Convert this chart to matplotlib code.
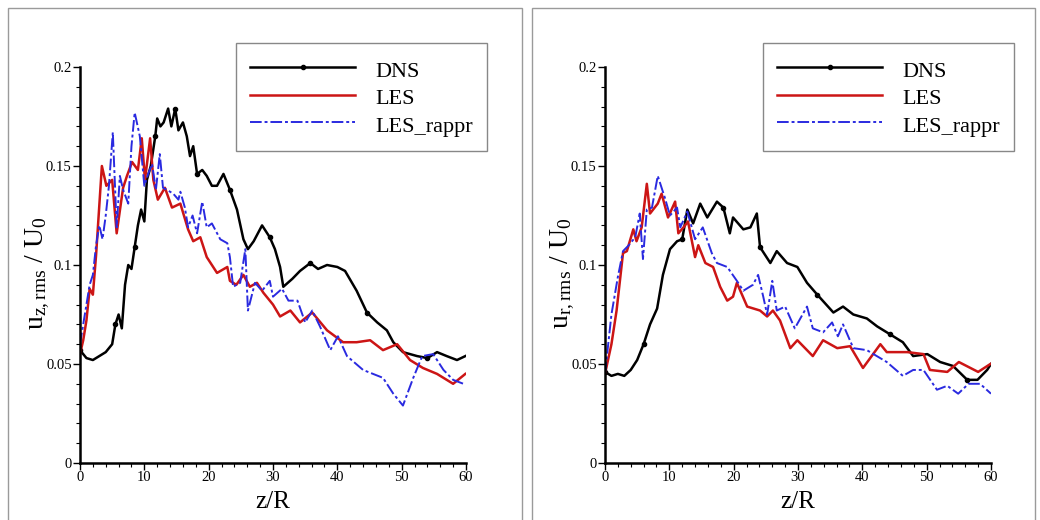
import matplotlib
matplotlib.use("Agg")
import matplotlib.pyplot as plt
from matplotlib.patches import Rectangle

plt.rcParams['font.family'] = ['Liberation Serif', 'DejaVu Serif']
plt.rcParams['mathtext.fontset'] = 'custom'
plt.rcParams['mathtext.rm'] = 'Liberation Serif'
plt.rcParams['mathtext.it'] = 'Liberation Serif'

# ---------------- data: left panel (u_z,rms) ----------------
zL_dns = [0, 1, 2, 3, 4, 5, 5.5, 6, 6.5, 7, 7.5, 8, 8.5, 9, 9.5, 10, 10.4, 11, 11.7, 12,
          12.5, 13, 13.7, 14.2, 14.8, 15.3, 16, 16.6, 17.1, 17.6, 18.2, 19, 19.7, 20.5, 21.3,
          22.3, 23.3, 24.4, 25.4, 26.1, 27, 28.3, 29.5, 30.3, 31.1, 31.6, 33, 34.2, 35.8, 37,
          38.4, 40, 41.2, 43, 44.6, 46.2, 47.7, 48.7, 50.2, 52.4, 54, 55.5, 57, 58.6, 59.9]
uL_dns = [0.057, 0.053, 0.052, 0.054, 0.056, 0.060, 0.070, 0.075, 0.068, 0.090, 0.100, 0.098,
          0.109, 0.120, 0.128, 0.122, 0.143, 0.150, 0.165, 0.174, 0.170, 0.172, 0.179, 0.170,
          0.179, 0.168, 0.172, 0.165, 0.155, 0.160, 0.146, 0.148, 0.145, 0.140, 0.140, 0.146,
          0.138, 0.128, 0.113, 0.108, 0.112, 0.120, 0.114, 0.108, 0.099, 0.089, 0.093, 0.097,
          0.101, 0.098, 0.100, 0.099, 0.097, 0.087, 0.076, 0.071, 0.067, 0.061, 0.056, 0.054,
          0.053, 0.056, 0.054, 0.052, 0.054]

zL_les = [0, 0.5, 1, 1.5, 2, 2.5, 3, 3.4, 4.1, 5, 5.7, 6.7, 7.3, 8.1, 9, 9.6, 10.1, 10.9, 11.4,
          12.1, 13.2, 14.3, 15.6, 16.8, 17.6, 18.7, 19.7, 21.3, 22.9, 23.3, 24.3, 25.4, 26.4,
          27.5, 28.5, 30, 31.1, 32.7, 34.2, 36.1, 38.4, 40.9, 43, 45.1, 47.1, 49.3, 51.3, 53.3,
          55.5, 58, 59.9]
uL_les = [0.055, 0.062, 0.072, 0.088, 0.085, 0.105, 0.130, 0.150, 0.140, 0.143, 0.116, 0.139,
          0.145, 0.152, 0.148, 0.164, 0.143, 0.164, 0.143, 0.133, 0.139, 0.129, 0.131, 0.118,
          0.112, 0.114, 0.104, 0.096, 0.099, 0.092, 0.090, 0.095, 0.089, 0.091, 0.086, 0.080,
          0.074, 0.077, 0.071, 0.076, 0.067, 0.061, 0.061, 0.062, 0.057, 0.060, 0.052, 0.048,
          0.045, 0.040, 0.045]

zL_rap = [0, 0.5, 1, 1.5, 2, 2.5, 3, 3.5, 4, 4.5, 5.1, 5.7, 6.2, 6.7, 7.5, 8, 8.5, 9.3, 10,
          10.6, 11.2, 11.8, 12.4, 12.9, 13.5, 14.5, 15.3, 15.6, 16.3, 16.8, 17.5, 18.2, 19,
          19.7, 20.5, 21.8, 22.9, 23.3, 23.8, 24.9, 25.7, 26.1, 27.2, 28.3, 29.5, 30, 31.4,
          32.4, 33.8, 35, 36.1, 37.3, 38.9, 40.1, 41.5, 44, 47.1, 48.7, 50.2, 51.8, 53.2, 54.9,
          56.5, 58, 59.6]
uL_rap = [0.060, 0.070, 0.080, 0.090, 0.095, 0.110, 0.120, 0.113, 0.125, 0.140, 0.167, 0.119,
          0.145, 0.138, 0.131, 0.160, 0.177, 0.165, 0.140, 0.146, 0.151, 0.138, 0.156, 0.139,
          0.138, 0.136, 0.133, 0.137, 0.129, 0.119, 0.125, 0.116, 0.132, 0.119, 0.121, 0.113,
          0.111, 0.104, 0.089, 0.091, 0.108, 0.077, 0.091, 0.087, 0.092, 0.084, 0.088, 0.082,
          0.082, 0.071, 0.077, 0.069, 0.057, 0.064, 0.054, 0.047, 0.043, 0.035, 0.029, 0.043,
          0.054, 0.055, 0.047, 0.042, 0.040]

# ---------------- data: right panel (u_r,rms) ----------------
zR_dns = [0, 1, 2, 3, 4, 5, 6, 7, 8.1, 9, 10.1, 11.2, 12, 12.8, 13.7, 14.8, 15.9, 17.4, 18.4,
          19.4, 19.9, 21.5, 22.6, 23.6, 24.1, 25.7, 26.7, 28.3, 29.9, 31.4, 33, 35.5, 37, 38.6,
          40.7, 42.3, 44.3, 46.3, 47.9, 50.1, 52.1, 54.1, 56.3, 57.9, 59.4, 60]
uR_dns = [0.046, 0.044, 0.045, 0.044, 0.047, 0.052, 0.060, 0.070, 0.078, 0.095, 0.108, 0.112,
          0.113, 0.128, 0.121, 0.131, 0.124, 0.132, 0.129, 0.116, 0.124, 0.118, 0.119, 0.126,
          0.109, 0.101, 0.107, 0.101, 0.099, 0.091, 0.085, 0.076, 0.079, 0.075, 0.073, 0.069,
          0.065, 0.061, 0.054, 0.055, 0.051, 0.049, 0.042, 0.042, 0.047, 0.050]

zR_les = [0, 1, 1.8, 2.8, 3.4, 4.4, 4.9, 5.7, 6.5, 7, 8.2, 8.8, 9.8, 10.9, 11.4, 12.2, 12.9, 14,
          14.5, 15.6, 16.8, 17.9, 19, 19.9, 20.5, 22.1, 24.1, 25.2, 26.1, 27.2, 28.8, 29.9, 32.3,
          33.9, 36.1, 38.1, 40.1, 42.8, 43.8, 47, 49.5, 50.5, 53.2, 55, 58, 59.9]
uR_les = [0.045, 0.060, 0.077, 0.106, 0.107, 0.118, 0.112, 0.119, 0.141, 0.126, 0.131, 0.136,
          0.124, 0.132, 0.116, 0.119, 0.122, 0.104, 0.110, 0.101, 0.099, 0.089, 0.082, 0.084,
          0.091, 0.079, 0.077, 0.074, 0.077, 0.072, 0.058, 0.062, 0.054, 0.062, 0.058, 0.059,
          0.048, 0.060, 0.056, 0.056, 0.055, 0.047, 0.046, 0.051, 0.046, 0.050]

zR_rap = [0, 1, 2, 2.8, 3.7, 4.7, 5.4, 5.9, 6.5, 7.3, 8.2, 9.3, 10.1, 11.2, 11.7, 12.8, 14, 15.2,
          16.6, 17.4, 19, 20.5, 21.5, 23, 23.8, 24.6, 25.2, 26, 26.7, 28, 29.5, 31.4, 32.3, 33.9,
          35.3, 36.2, 37, 38.6, 40.7, 43.8, 46.3, 47.9, 49.5, 51.6, 53.2, 54.9, 56.5, 58.3, 60]
uR_rap = [0.045, 0.075, 0.094, 0.107, 0.110, 0.114, 0.126, 0.103, 0.128, 0.129, 0.145, 0.134,
          0.125, 0.129, 0.119, 0.127, 0.113, 0.119, 0.106, 0.101, 0.099, 0.092, 0.087, 0.090,
          0.095, 0.084, 0.075, 0.092, 0.077, 0.079, 0.068, 0.079, 0.068, 0.066, 0.071, 0.064,
          0.070, 0.058, 0.057, 0.051, 0.044, 0.047, 0.047, 0.037, 0.039, 0.035, 0.040, 0.040,
          0.035]

labels = ["DNS", "LES", "LES_rappr"]
xticks = [0, 10, 20, 30, 40, 50, 60]
yticks = [0, 0.05, 0.1, 0.15, 0.2]
ytick_labels = ["0", "0.05", "0.1", "0.15", "0.2"]
ylabels = [r"$\mathrm{u_{z,rms}\ /\ U_0}$", r"$\mathrm{u_{r,rms}\ /\ U_0}$"]

W, H = 1040, 520
fig = plt.figure(figsize=(W / 100, H / 100), dpi=100)

# panel frames
for x0, x1 in [(8, 522), (532, 1035)]:
    fig.add_artist(Rectangle((x0 / W, -0.01), (x1 - x0) / W, 1 - 8 / H + 0.01,
                             transform=fig.transFigure, fill=False,
                             edgecolor="#9a9a9a", linewidth=1.0))

panels = [
    (80, (zL_dns, uL_dns), (zL_les, uL_les), (zL_rap, uL_rap), ylabels[0], 487),
    (605, (zR_dns, uR_dns), (zR_les, uR_les), (zR_rap, uR_rap), ylabels[1], 1014),
]

for left_px, dns, les, rap, ylab, leg_right in panels:
    ax = fig.add_axes([left_px / W, (H - 463) / H, 386 / W, 396 / H])
    ax.plot(dns[0], dns[1], color="black", lw=1.8, marker="o", ms=3,
            markevery=6, label=labels[0])
    ax.plot(les[0], les[1], color="#cc1515", lw=1.8, label=labels[1])
    ax.plot(rap[0], rap[1], color="#2a2ae0", lw=1.4, ls=(0, (6, 1.5, 1.5, 1.5)),
            label=labels[2])
    ax.set_xlim(0, 60)
    ax.set_ylim(0, 0.2)
    ax.set_xticks(xticks)
    ax.set_yticks(yticks)
    ax.set_yticklabels(ytick_labels)
    ax.set_xticks(range(0, 61, 2), minor=True)
    ax.set_yticks([i * 0.01 for i in range(21)], minor=True)
    for s in ["top", "right"]:
        ax.spines[s].set_visible(False)
    for s in ["left", "bottom"]:
        ax.spines[s].set_linewidth(1.8)
    ax.tick_params(which="major", direction="out", length=5, width=1.0,
                   labelsize=10.5, pad=1)
    ax.tick_params(which="minor", direction="out", length=3, width=0.8)
    ax.set_xlabel("z/R", fontsize=18, labelpad=5)
    ax.set_ylabel(ylab, fontsize=20)
    ax.yaxis.set_label_coords(-0.072, 0.48)
    ax.legend(loc="upper right", bbox_to_anchor=(leg_right / W, 1 - 43 / H),
              bbox_transform=fig.transFigure, fancybox=False, framealpha=1,
              edgecolor="#888888", fontsize=16, handlelength=4.7,
              handleheight=1.25, borderpad=0.65, labelspacing=0.15,
              handletextpad=0.9, borderaxespad=0)

fig.savefig("out.png", dpi=100)
